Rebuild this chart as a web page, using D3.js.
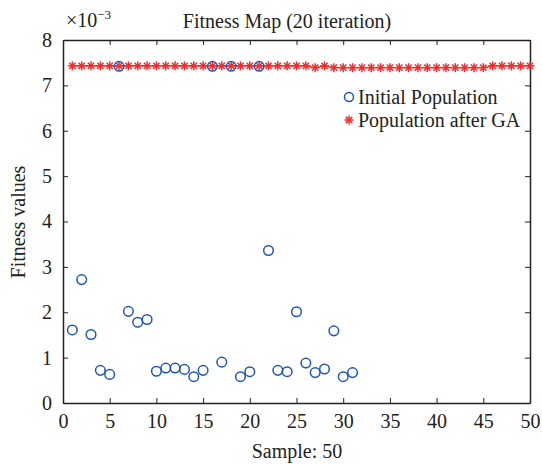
<!DOCTYPE html>
<html><head><meta charset="utf-8">
<script src="https://cdn.jsdelivr.net/npm/d3@7"></script>
<style>body{margin:0;background:#fff}svg text{font-family:"Liberation Serif","Times New Roman",serif;fill:#222}</style>
</head><body><svg id="c" width="542" height="464"></svg>
<script>
const initialX = [1,2,3,4,5,6,7,8,9,10,11,12,13,14,15,16,17,18,19,20,21,22,23,24,25,26,27,28,29,30,31];
const initialY = [1.61,2.72,1.51,0.72,0.63,7.42,2.02,1.78,1.84,0.70,0.77,0.77,0.74,0.58,0.72,7.42,0.90,7.42,0.58,0.69,7.42,3.36,0.72,0.69,2.01,0.88,0.67,0.75,1.59,0.58,0.67];
const gaX = d3.range(1,51);
const gaY = [7.43,7.43,7.43,7.43,7.43,7.43,7.43,7.43,7.43,7.43,7.43,7.43,7.43,7.43,7.43,7.43,7.43,7.43,7.43,7.43,7.43,7.43,7.43,7.43,7.43,7.43,7.39,7.43,7.39,7.39,7.39,7.39,7.39,7.39,7.39,7.39,7.39,7.39,7.39,7.39,7.39,7.39,7.39,7.39,7.39,7.43,7.43,7.43,7.43,7.43];
const xTicks = [0,5,10,15,20,25,30,35,40,45,50];
const yTicks = [0,1,2,3,4,5,6,7,8];
const title = "Fitness Map (20 iteration)";
const xLabel = "Sample: 50";
const yLabel = "Fitness values";
const legendLabels = ["Initial Population","Population after GA"];

const L=63,R=530,T=40,B=403;
const svg=d3.select("#c");
const x=d3.scaleLinear().domain([0,50]).range([L,R]);
const y=d3.scaleLinear().domain([0,8]).range([B,T]);
const fs=20, tk=5;

const g=svg.append("g");
g.append("g").attr("transform",`translate(0,${B})`).call(d3.axisBottom(x).tickValues(xTicks).tickSize(-tk).tickPadding(11).tickSizeOuter(0));
g.append("g").attr("transform",`translate(0,${T})`).call(d3.axisTop(x).tickValues(xTicks).tickSize(-tk).tickFormat("").tickSizeOuter(0));
g.append("g").attr("transform",`translate(${L},0)`).call(d3.axisLeft(y).tickValues(yTicks).tickSize(-tk).tickPadding(11).tickSizeOuter(0));
g.append("g").attr("transform",`translate(${R},0)`).call(d3.axisRight(y).tickValues(yTicks).tickSize(-tk).tickFormat("").tickSizeOuter(0));
g.selectAll(".domain").attr("stroke","#222").attr("stroke-width",1.5);
g.selectAll(".tick line").attr("stroke","#222").attr("stroke-width",1);
g.selectAll(".tick text").attr("font-size",fs).attr("font-family","Liberation Serif").attr("fill","#222");

const red="#f52a2a", blue="#1f55b8";
svg.append("path").datum(gaX.map((d,i)=>[d,gaY[i]]))
  .attr("d",d3.line().x(d=>x(d[0])).y(d=>y(d[1]))).attr("fill","none").attr("stroke",red).attr("stroke-width",1.2);
function star(sel,cx,cy,r){
  const gg=sel.append("g").attr("transform",`translate(${cx},${cy})`).attr("stroke",red).attr("stroke-width",1.5);
  [[0,-r,0,r],[-r,0,r,0],[-r*0.7,-r*0.7,r*0.7,r*0.7],[-r*0.7,r*0.7,r*0.7,-r*0.7]].forEach(l=>gg.append("line").attr("x1",l[0]).attr("y1",l[1]).attr("x2",l[2]).attr("y2",l[3]));
}
gaX.forEach((d,i)=>star(svg,x(d),y(gaY[i]),4.5));

svg.append("g").selectAll("circle").data(initialX.map((d,i)=>[d,initialY[i]])).join("circle")
  .attr("cx",d=>x(d[0])).attr("cy",d=>y(d[1])).attr("r",4.8).attr("fill","none").attr("stroke",blue).attr("stroke-width",1.5);

svg.append("circle").attr("cx",349).attr("cy",97).attr("r",4.5).attr("fill","none").attr("stroke",blue).attr("stroke-width",1.5);
star(svg,349,120,4.5);
svg.append("text").attr("x",358).attr("y",104).attr("font-size",fs).text(legendLabels[0]);
svg.append("text").attr("x",358).attr("y",127).attr("font-size",fs).text(legendLabels[1]);

svg.append("text").attr("x",287).attr("y",28).attr("text-anchor","middle").attr("font-size",fs).text(title);
svg.append("text").attr("x",297).attr("y",458).attr("text-anchor","middle").attr("font-size",fs).text(xLabel);
svg.append("text").attr("transform","translate(25,222) rotate(-90)").attr("text-anchor","middle").attr("font-size",fs).text(yLabel);
const e=svg.append("text").attr("x",66).attr("y",27).attr("font-size",fs);
e.append("tspan").text("×10");
e.append("tspan").attr("font-size",13).attr("dy",-8).text("−3");
</script></body></html>
